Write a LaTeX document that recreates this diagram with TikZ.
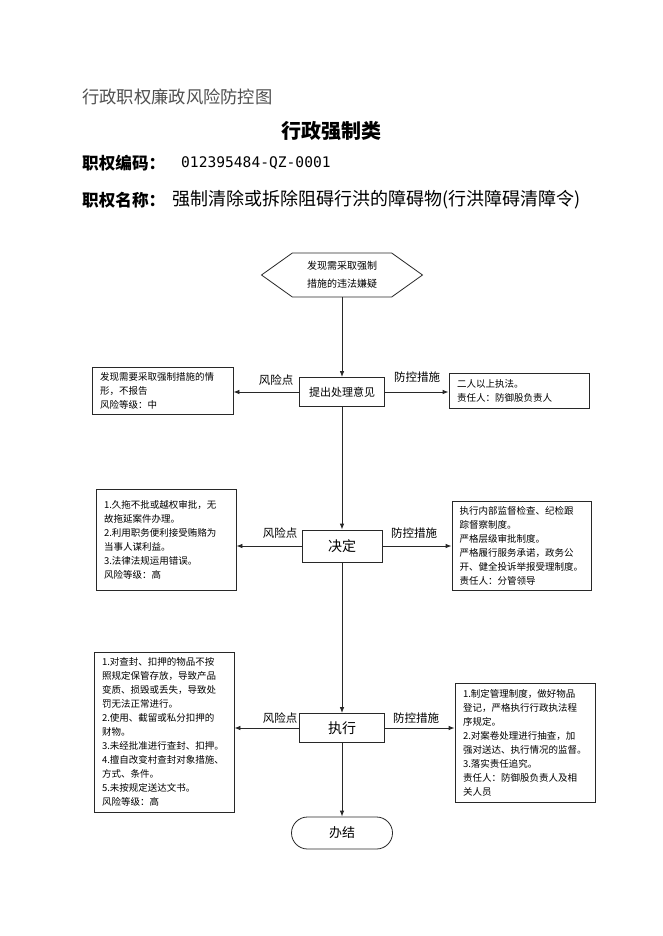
\documentclass[tikz,border=0pt]{standalone}
\usepackage{fontspec}
\newfontfamily\cjk{Noto Sans CJK SC}
\newfontfamily\monof{DejaVu Sans Mono}
\usetikzlibrary{arrows.meta,shapes.symbols}
\definecolor{titlegray}{RGB}{80,80,80}
\definecolor{linecol}{RGB}{40,40,40}
\begin{document}
\begin{tikzpicture}[x=1pt,y=-1pt,
  box/.style={draw=linecol, line width=0.8pt, align=left, inner xsep=8pt, inner ysep=0pt,
    font=\cjk\fontsize{9.5}{14}\selectfont},
  proc/.style={draw=linecol, line width=0.8pt, inner sep=0pt, font=\cjk\fontsize{14}{16}\selectfont},
  lab/.style={font=\cjk\fontsize{11.5}{13}\selectfont, inner sep=0pt},
  conn/.style={draw=linecol, line width=0.8pt, -{Latex[length=6pt,width=4.5pt]}},
  head/.style={anchor=west, inner sep=0pt}]
\fill[white] (0,0) rectangle (662,936);
\useasboundingbox (0,0) rectangle (662,936);

% headings
\node[head, font=\cjk\fontsize{17.3}{20}\selectfont, text=titlegray] (t1) at (82,97) {行政职权廉政风险防控图};
\node[inner sep=0pt, font=\cjk\bfseries\fontsize{20}{24}\selectfont] (t2) at (331,131) {行政强制类};
\node[head, font=\cjk\bfseries\fontsize{16.6}{20}\selectfont] (k1) at (82,163) {职权编码：};
\node[head, font=\monof\fontsize{14.6}{18}\selectfont] (v1) at (181,163) {012395484-QZ-0001};
\node[head, font=\cjk\bfseries\fontsize{16.6}{20}\selectfont] (k2) at (82,200) {职权名称：};
\node[head, font=\cjk\fontsize{18}{20}\selectfont] (v2) at (172,200) {强制清除或拆除阻碍行洪的障碍物(行洪障碍清障令)};

% start
\node[draw=linecol, line width=0.8pt, signal, signal to=west and east, signal pointer angle=71,
  minimum width=161pt, minimum height=44pt, inner sep=0pt, align=center,
  font=\cjk\fontsize{10}{18}\selectfont] (start) at (342,275) {发现需采取强制\\措施的违法嫌疑};

% main process
\node[proc, minimum width=85pt, minimum height=29pt, font=\cjk\fontsize{11}{13}\selectfont] (b1) at (342,392) {提出处理意见};
\node[proc, minimum width=80pt, minimum height=32pt] (b2) at (342,546) {决定};
\node[proc, minimum width=85pt, minimum height=29pt] (b3) at (342,728) {执行};
\node[proc, minimum width=101pt, minimum height=32pt, rounded corners=16pt, font=\cjk\fontsize{13}{15}\selectfont] (b4) at (342,833) {办结};

% side boxes
\node[box, text width=125pt, minimum height=47pt] (lb1) at (162.5,390.5)
  {发现需要采取强制措施的情\\形，不报告\\风险等级：中};
\node[box, text width=124pt, minimum height=35pt] (rb1) at (519,390.5)
  {二人以上执法。\\责任人：防御股负责人};
\node[box, text width=124pt, minimum height=101pt] (lb2) at (166,539.5)
  {1.久拖不批或越权审批，无\\故拖延案件办理。\\2.利用职务便利接受贿赂为\\当事人谋利益。\\3.法律法规运用错误。\\风险等级：高};
\node[box, text width=124pt, inner xsep=7.5pt, minimum height=89pt] (rb2) at (521.5,545.5)
  {执行内部监督检查、纪检跟\\踪督察制度。\\严格层级审批制度。\\严格履行服务承诺，政务公\\开、健全投诉举报受理制度。\\责任人：分管领导};
\node[box, text width=124pt, minimum height=160pt] (lb3) at (164,732)
  {1.对查封、扣押的物品不按\\照规定保管存放，导致产品\\变质、损毁或丢失，导致处\\罚无法正常进行。\\2.使用、截留或私分扣押的\\财物。\\3.未经批准进行查封、扣押。\\4.擅自改变村查封对象措施、\\方式、条件。\\5.未按规定送达文书。\\风险等级：高};
\node[box, text width=124pt, minimum height=119pt] (rb3) at (525,742.5)
  {1.制定管理制度，做好物品\\登记，严格执行行政执法程\\序规定。\\2.对案卷处理进行抽查，加\\强对送达、执行情况的监督。\\3.落实责任追究。\\责任人：防御股负责人及相\\关人员};

% labels
\node[lab] (r1a) at (276,380) {风险点};
\node[lab] (r1b) at (417,377) {防控措施};
\node[lab] (r2a) at (280,533) {风险点};
\node[lab] (r2b) at (414,533) {防控措施};
\node[lab] (r3a) at (280,718) {风险点};
\node[lab] (r3b) at (416,718) {防控措施};

% connectors
\draw[conn] (start.south) -- (b1.north);
\draw[conn] (b1.south) -- (b2.north);
\draw[conn] (b2.south) -- (b3.north);
\draw[conn] (b3.south) -- (b4.north);
\draw[conn] (b1.west) -- (b1.west -| lb1.east);
\draw[conn] (b1.east) -- (b1.east -| rb1.west);
\draw[conn] (b2.west) -- (b2.west -| lb2.east);
\draw[conn] (b2.east) -- (b2.east -| rb2.west);
\draw[conn] (b3.west) -- (b3.west -| lb3.east);
\draw[conn] (b3.east) -- (b3.east -| rb3.west);
\end{tikzpicture}
\end{document}
